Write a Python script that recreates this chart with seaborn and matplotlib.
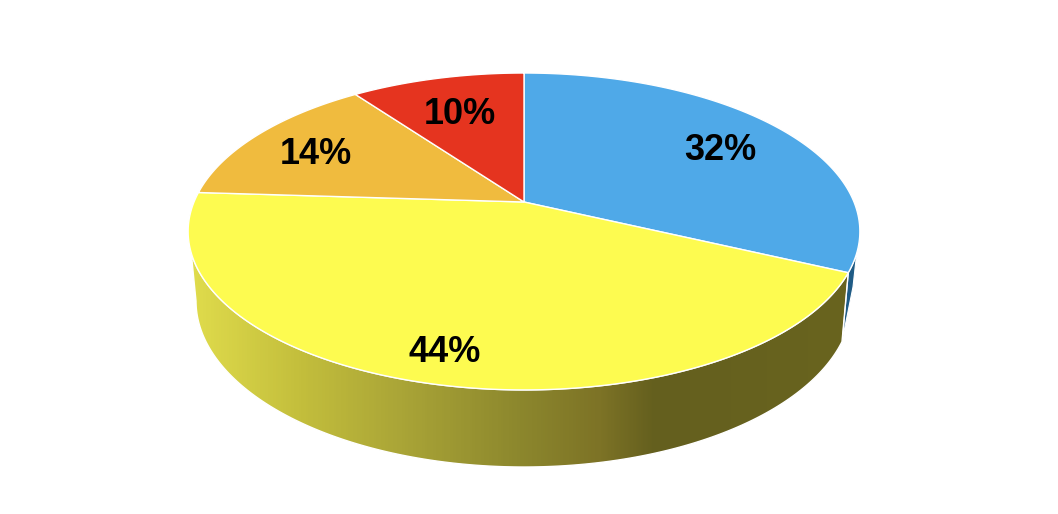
import numpy as np
import seaborn as sns
import matplotlib.pyplot as plt
from matplotlib.patches import Polygon

labels = ["32%", "44%", "14%", "10%"]
values = [32, 44, 14, 10]
colors = ["#4FA9E8", "#FDFB50", "#F0BB3E", "#E5341F"]
label_x = [720, 445, 316, 460]
label_y = [150, 352, 154, 114]
wall_colors = ["#E0DC4C", "#C3BE3C", "#AAA537", "#8C872D", "#7D7326", "#645F1E", "#69641E"]
wall_stops = [190, 300, 400, 520, 600, 655, 850]

sns.set_theme(style="white")
plt.rcParams['font.family'] = ['Liberation Sans', 'DejaVu Sans']


# tilted disc: perspective keeps the apex above the centre of the ellipse
def project(t):
    t = np.radians(t)
    x, y = np.sin(t), np.cos(t)
    d = 1 + 0.186 * y
    return 524 + 330 * x / d, (202 - 115.4 * y) / d


def rim(p):
    p = np.radians(p)
    return 524 + 328 * np.cos(p), 301 + 166 * np.sin(p)


f = plt.figure(figsize=(10.58, 5.14), dpi=100)
ax = f.add_axes([0, 0, 1, 1])

edges = np.concatenate([[0], np.cumsum(values)]) * 3.6

# Side wall, yellow slice
tx, ty = project(np.linspace(edges[1], 251.7, 200))
bx, by = rim(np.linspace(180, 14.2, 200))
wall = Polygon(np.column_stack([np.r_[tx, bx], np.r_[ty, by]]), closed=True,
               facecolor="none", edgecolor="white", linewidth=1, zorder=3)
ax.add_patch(wall)
shade = sns.blend_palette(wall_colors, n_colors=256, as_cmap=True)
grad = np.interp(np.arange(190, 850), wall_stops, np.linspace(0, 1, len(wall_stops)))
im = ax.imshow(grad[None, :], extent=[190, 850, 480, 200], cmap=shade, aspect="auto", zorder=2)
im.set_clip_path(wall)

# Side wall, blue sliver
tx, ty = project(np.linspace(108.3, edges[1], 30))
ax.fill(np.r_[tx, 842.5, 853], np.r_[ty, 339, 287], color="#1F5B85", ec="white", lw=0.8, zorder=2)

# Top of the pie
for i in range(len(values)):
    x, y = project(np.linspace(edges[i], edges[i + 1], 200))
    ax.fill(np.r_[524, x], np.r_[202, y], color=colors[i], ec="white", lw=1, zorder=4)

for i in range(len(labels)):
    ax.text(label_x[i], label_y[i], labels[i], ha="center", va="center",
            fontsize=26, fontweight="bold", color="black", zorder=5)

ax.set_xlim(0, 1058)
ax.set_ylim(514, 0)
ax.axis("off")

f.savefig("out.png", dpi=100)
